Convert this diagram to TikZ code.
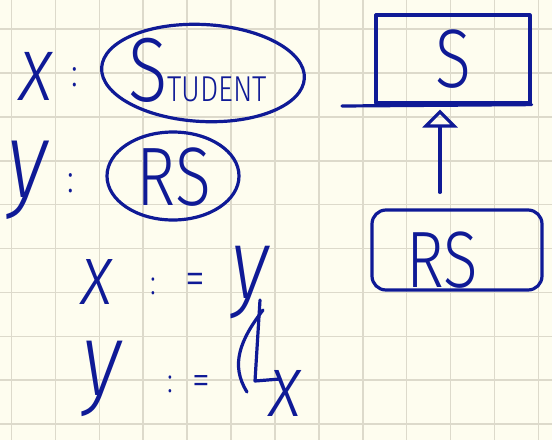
\documentclass[tikz,border=0pt]{standalone}
\usepackage{fontspec}
\newfontfamily\hand[FakeStretch=0.8]{Fira Sans Light}
\usetikzlibrary{arrows.meta,positioning,shapes.geometric}
\definecolor{paper}{HTML}{FEFDEF}
\definecolor{gridc}{HTML}{DDDACB}
\definecolor{ink}{HTML}{0F1A96}

\begin{document}
\begin{tikzpicture}[x=1pt,y=-1pt,
  gridline/.style={gridc,line width=1.6pt},
  pen/.style={ink,line width=3.2pt,line cap=round,line join=round},
  word/.style={text=ink,inner sep=0pt,font=\hand\fontsize{#1}{#1}\selectfont},
  var/.style={text=ink,inner sep=0pt,text height=0.53em,text depth=0.24em,
    font=\hand\itshape\fontsize{#1}{#1}\selectfont}]
  % Paper
  \path[use as bounding box,fill=paper] (0,0) rectangle (552,440);
  \foreach \gx in {0,...,12}
    \draw[gridline] ({11.5+43.9*\gx},0) -- ++(0,440);
  \foreach \gy in {0,...,9}
    \draw[gridline] (0,{29+43.9*\gy}) -- ++(552,0);

  % Declarations
  \node[var=92,anchor=base] (xa) at (36,100) {x};
  \node[word=40] (cola) at (75,77) {:};
  \node[pen,draw,ellipse,rotate=-3,minimum width=203pt,minimum height=97pt] (studring) at (203,73) {};
  \node[word=36,anchor=base west] (student) at (128,101) {{\fontsize{91}{91}\selectfont S}TUDENT};

  \node[var=108,anchor=base] (ya) at (28,197) {y};
  \node[word=40] (colb) at (71,183) {:};
  \node[pen,draw,ellipse,minimum width=132pt,minimum height=88pt] (rsring) at (173,176) {};
  \node[word=83,anchor=base] (rs) at (174,205) {RS};

  % Assignments
  \node[var=86,anchor=base,text depth=0pt] (xb) at (97,304) {x};
  \node[word=35] (colc) at (153,286) {:};
  \node[word=50] (eqa) at (195,284) {=};
  \node[var=100,anchor=base] (yb) at (250,298) {y};
  \draw[pen] (260,300) -- (255,381) -- (280,379);
  \draw[pen] (263,310) .. controls (240,340) and (230,365) .. (247,392);

  \node[var=104,anchor=base] (yc) at (102,395) {y};
  \node[word=35] (cold) at (170,384) {:};
  \node[word=45] (eqb) at (201,386) {=};
  \node[var=88,anchor=base] (xc) at (286,416) {x};

  % Class diagram
  \node[pen,draw,word=83,minimum width=154pt,minimum height=88pt] (sbox) at (453,59) {S};
  \coordinate (sline) at (342,106);
  \draw[pen] (sline) -- (sbox.south east);
  \node[pen,draw,rounded corners=14pt,minimum width=170pt,minimum height=80pt] (rsbox) at (457,250) {};
  \node[word=80,anchor=base] (rsname) at (442,287) {RS};
  \draw[pen,-{Triangle[open,width=35pt,length=18pt]},shorten <=16pt,shorten >=5pt]
    ([xshift=-17pt]rsbox.north) -- ([xshift=-13pt]sbox.south);
\end{tikzpicture}
\end{document}
